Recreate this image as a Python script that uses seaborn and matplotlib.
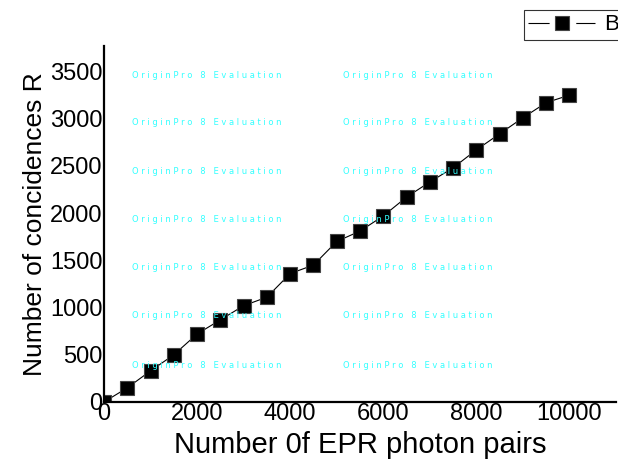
import numpy as np
import pandas as pd
import matplotlib
matplotlib.use("Agg")
import matplotlib.pyplot as plt
import seaborn as sns

# data
epr_pairs = [0, 500, 1000, 1500, 2000, 2500, 3000, 3500, 4000, 4500, 5000,
             5500, 6000, 6500, 7000, 7500, 8000, 8500, 9000, 9500, 10000]
coincidences = [0, 150, 330, 500, 720, 870, 1020, 1110, 1360, 1450, 1700,
                1810, 1970, 2170, 2330, 2480, 2670, 2840, 3010, 3170, 3250]
series_name = "B"

x_ticks = [0, 2000, 4000, 6000, 8000, 10000]
y_ticks = [0, 500, 1000, 1500, 2000, 2500, 3000, 3500]

df = pd.DataFrame({"x": epr_pairs, "y": coincidences})

sns.set_style("white")
plt.rcParams["font.family"] = ["Liberation Sans", "DejaVu Sans"]
plt.rcParams["text.color"] = "black"
plt.rcParams["axes.labelcolor"] = "black"

W, H = 618, 459
fig = plt.figure(figsize=(W / 100, H / 100), dpi=100)
ax = fig.add_axes([104 / W, 1 - 402 / H, (616 - 104) / W, (402 - 46) / H])

sns.lineplot(data=df, x="x", y="y", ax=ax, color="black", linewidth=0.8,
             marker="s", markersize=9.5, markeredgecolor="#444444",
             markeredgewidth=0.8, label=series_name)

ax.set_xlim(0, 11000)
ax.set_ylim(0, 3770)
ax.set_xticks(x_ticks)
ax.set_yticks(y_ticks)
ax.tick_params(axis="both", length=0, labelsize=17, colors="black")
ax.tick_params(axis="x", pad=1)
ax.tick_params(axis="y", pad=1)
for s in ["top", "right"]:
    ax.spines[s].set_visible(False)
for s in ["left", "bottom"]:
    ax.spines[s].set_linewidth(1.6)
    ax.spines[s].set_color("black")

ax.set_xlabel("Number 0f EPR photon pairs", fontsize=21, labelpad=4)
ax.set_ylabel("Number of concidences R", fontsize=19, labelpad=2)

# legend box sticking out past the right edge, like the original
leg = ax.legend(loc="upper left", bbox_to_anchor=(524 / W, 1 - 10 / H),
                bbox_transform=fig.transFigure, frameon=True, fontsize=16,
                handlelength=3.0, handletextpad=0.4, borderpad=0.2,
                borderaxespad=0, fancybox=False, markerscale=1.0)
leg.get_frame().set_edgecolor("black")
leg.get_frame().set_linewidth(0.8)
# line - gap - line around the legend marker
leg.get_lines()[0].set_linestyle((0, (19, 24, 19, 24)))

# evaluation watermark
wm = "O r i g i n P r o   8   E v a l u a t i o n"
for yp in [75, 123, 171, 219, 268, 316, 365]:
    for xp in [132, 343]:
        fig.text(xp / W, 1 - yp / H, wm, color="#33ffff", fontsize=6,
                 va="center", ha="left", family="DejaVu Sans")

fig.savefig("out.png", dpi=100)
